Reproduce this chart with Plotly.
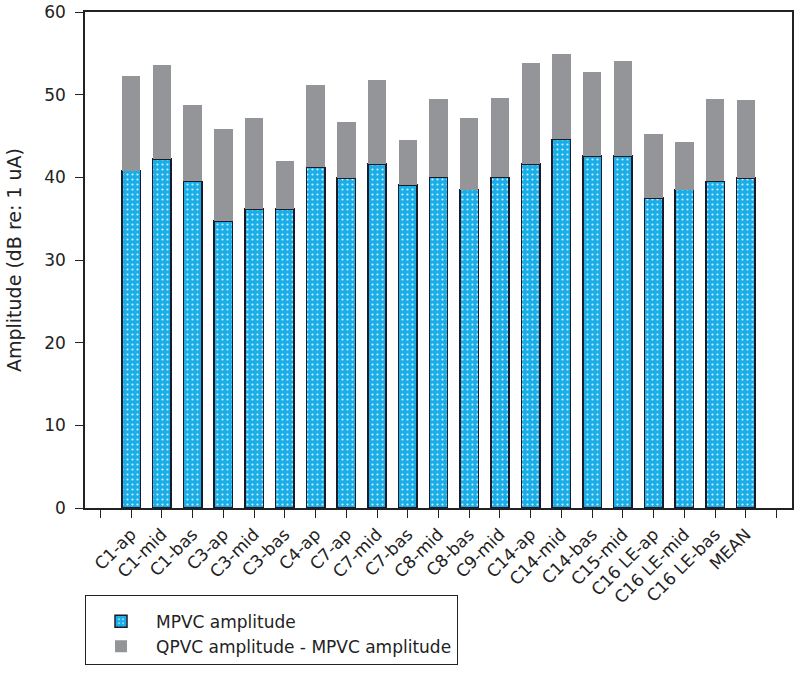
import plotly.graph_objects as go

categories = ["C1-ap", "C1-mid", "C1-bas", "C3-ap", "C3-mid", "C3-bas", "C4-ap",
              "C7-ap", "C7-mid", "C7-bas", "C8-mid", "C8-bas", "C9-mid", "C14-ap",
              "C14-mid", "C14-bas", "C15-mid", "C16 LE-ap", "C16 LE-mid",
              "C16 LE-bas", "MEAN"]
mpvc = [40.8, 42.2, 39.5, 34.7, 36.2, 36.2, 41.2, 39.9, 41.6, 39.1, 40.0, 38.5,
        40.0, 41.6, 44.6, 42.6, 42.6, 37.5, 38.5, 39.5, 39.9]
qpvc_total = [52.3, 53.6, 48.7, 45.8, 47.2, 42.0, 51.2, 46.7, 51.8, 44.5, 49.5,
              47.2, 49.6, 53.8, 54.9, 52.7, 54.1, 45.3, 44.3, 49.5, 49.3]
diff = [round(t - m, 2) for t, m in zip(qpvc_total, mpvc)]

xpos = list(range(1, len(categories) + 1))
tickvals = list(range(0, len(categories) + 2))
ticktext = [""] + categories + [""]

BLUE = "#19aee8"
GREY = "#939598"
INK = "#222222"
FONT = "DejaVu Sans, Verdana, sans-serif"

fig = go.Figure()
fig.add_trace(go.Bar(
    x=xpos, y=mpvc, name="MPVC amplitude", width=0.6, legendgroup="a",
    marker=dict(color=BLUE,
                line=dict(color="#1a1a2a", width=1.5),
                pattern=dict(shape=".", fgcolor="#d8f2ff", bgcolor=BLUE,
                             size=5, solidity=0.15, fillmode="replace")),
))
fig.add_trace(go.Bar(
    x=xpos, y=diff, name="QPVC amplitude - MPVC amplitude", width=0.6,
    legendgroup="b",
    marker=dict(color=GREY, line=dict(width=0)),
))

fig.update_layout(
    barmode="stack",
    width=800, height=677,
    margin=dict(l=85, r=8, t=12, b=169, autoexpand=False),
    paper_bgcolor="white", plot_bgcolor="white",
    font=dict(family=FONT, color=INK, size=17),
    showlegend=True,
    legend=dict(
        x=0, y=-0.175, xanchor="left", yanchor="top",
        orientation="v", traceorder="normal",
        bordercolor=INK, borderwidth=1,
        font=dict(size=17),
        itemwidth=60,
        tracegroupgap=11,
        title=dict(text=" ", font=dict(size=6)),
    ),
)
fig.update_xaxes(
    range=[-0.5, len(categories) + 1.5],
    tickmode="array", tickvals=tickvals, ticktext=ticktext,
    tickangle=-45, ticks="outside", ticklen=8, tickcolor=INK, tickwidth=1.2,
    showline=True, linecolor=INK, linewidth=1.5, mirror=True,
    showgrid=False, zeroline=False, automargin=False,
    tickfont=dict(size=17),
)
fig.update_yaxes(
    range=[0, 60], dtick=10, ticks="outside", ticklen=8, tickcolor=INK, tickwidth=1.2,
    showline=True, linecolor=INK, linewidth=1.5, mirror=True,
    showgrid=False, zeroline=False, automargin=False,
    tickfont=dict(size=17), ticklabelstandoff=6,
    title=dict(text="Amplitude (dB re: 1 uA)", font=dict(size=19), standoff=18),
)

fig.write_html("out.html", config={"displayModeBar": False},
               post_script="document.body.style.margin='0';")
